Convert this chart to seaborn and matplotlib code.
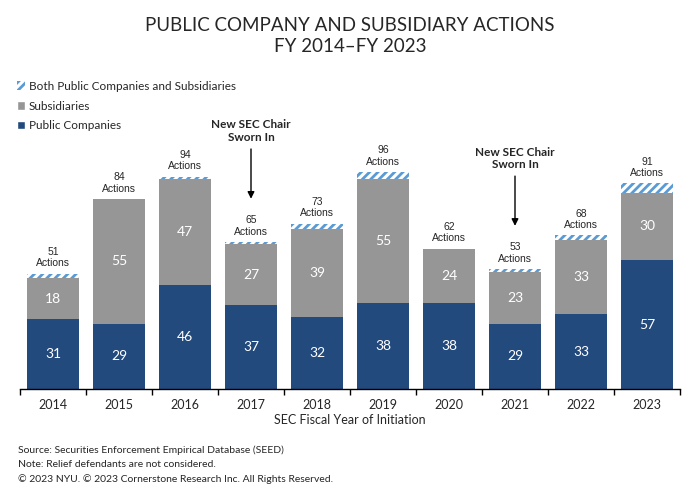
import matplotlib
matplotlib.use('Agg')
import matplotlib.pyplot as plt
import seaborn as sns
from matplotlib.patches import Patch

# Data
years = ['2014', '2015', '2016', '2017', '2018', '2019', '2020', '2021', '2022', '2023']
public = [31, 29, 46, 37, 32, 38, 38, 29, 33, 57]
subsidiaries = [18, 55, 47, 27, 39, 55, 24, 23, 33, 30]
both = [2, 0, 1, 1, 2, 3, 0, 1, 2, 4]
chair_years = ['2017', '2021']

PUB_COLOR = '#234A7D'
SUB_COLOR = '#969696'
BOTH_COLOR = '#5B9BD5'

sns.set_theme(style='white')
plt.rcParams['font.family'] = ['Lato', 'DejaVu Sans']
plt.rcParams['hatch.linewidth'] = 2.0

fig = plt.figure(figsize=(7.0, 5.01), dpi=100)
ax = fig.add_axes([20 / 700, 112 / 501, 660 / 700, 271 / 501])

totals = [p + s + b for p, s, b in zip(public, subsidiaries, both)]
sub_bottom = public
both_bottom = [p + s for p, s in zip(public, subsidiaries)]

sns.barplot(x=years, y=public, color=PUB_COLOR, width=0.8, linewidth=0,
            saturation=1, ax=ax)
sns.barplot(x=years, y=subsidiaries, bottom=sub_bottom, color=SUB_COLOR, width=0.8,
            linewidth=0, saturation=1, ax=ax)
sns.barplot(x=years, y=both, bottom=both_bottom, color='white', width=0.8,
            hatch='////', edgecolor=BOTH_COLOR, linewidth=0, saturation=1, ax=ax)

# segment labels
for i in range(len(years)):
    ax.text(i, public[i] / 2, str(public[i]), ha='center', va='center',
            color='white', fontsize=10)
    ax.text(i, public[i] + subsidiaries[i] / 2, str(subsidiaries[i]), ha='center',
            va='center', color='white', fontsize=10)
    ax.text(i, totals[i] + 2.5, f'{totals[i]}\nActions', ha='center', va='bottom',
            fontsize=7.5, family='Liberation Sans', linespacing=1.15)

# SEC chair annotations
for yr in chair_years:
    i = years.index(yr)
    ax.annotate('', xy=(i, totals[i] + 18), xytext=(i, totals[i] + 42.5),
                arrowprops=dict(arrowstyle='-|>', color='black', lw=1,
                                mutation_scale=10), annotation_clip=False)
    ax.text(i, totals[i] + 44, 'New SEC Chair\nSworn In', ha='center', va='bottom',
            fontsize=8.5, fontweight='bold', linespacing=1.15, clip_on=False)

ax.set_ylim(0, 120)
ax.set_xlim(-0.5, len(years) - 0.5)
ax.set_yticks([])
for s in ['top', 'right', 'left']:
    ax.spines[s].set_visible(False)
ax.spines['bottom'].set_color('black')
ax.spines['bottom'].set_linewidth(1)
ax.set_xticks(range(len(years)))
ax.set_xticklabels(years, fontsize=9)
ax.set_xticks([i - 0.5 for i in range(len(years) + 1)], minor=True)
ax.tick_params(axis='x', which='major', length=0, pad=7)
ax.tick_params(axis='x', which='minor', length=4, width=1, color='black',
               direction='out', bottom=True)
ax.set_xlabel('SEC Fiscal Year of Initiation', fontsize=9, labelpad=2)
ax.set_ylabel('')

fig.text(0.5, 1 - 17 / 501, 'PUBLIC COMPANY AND SUBSIDIARY ACTIONS\nFY 2014\u2013FY 2023',
         ha='center', va='top', fontsize=13.5, linespacing=1.25)

handles = [Patch(facecolor='white', edgecolor=BOTH_COLOR, hatch='////', linewidth=0,
                 label='Both Public Companies and Subsidiaries'),
           Patch(facecolor=SUB_COLOR, label='Subsidiaries'),
           Patch(facecolor=PUB_COLOR, label='Public Companies')]
fig.legend(handles=handles, loc='upper left', bbox_to_anchor=(12 / 700, 1 - 76 / 501),
           frameon=False, fontsize=8.5, handlelength=0.7, handleheight=0.7,
           handletextpad=0.3, labelspacing=0.75, borderaxespad=0)

notes = ['Source: Securities Enforcement Empirical Database (SEED)',
         'Note: Relief defendants are not considered.',
         '\u00a9 2023 NYU. \u00a9 2023 Cornerstone Research Inc. All Rights Reserved.']
for k, line in enumerate(notes):
    fig.text(18 / 700, 1 - (450 + 14.5 * k) / 501, line, ha='left', va='center',
             fontsize=7.5)

fig.savefig('out.png', dpi=100)
